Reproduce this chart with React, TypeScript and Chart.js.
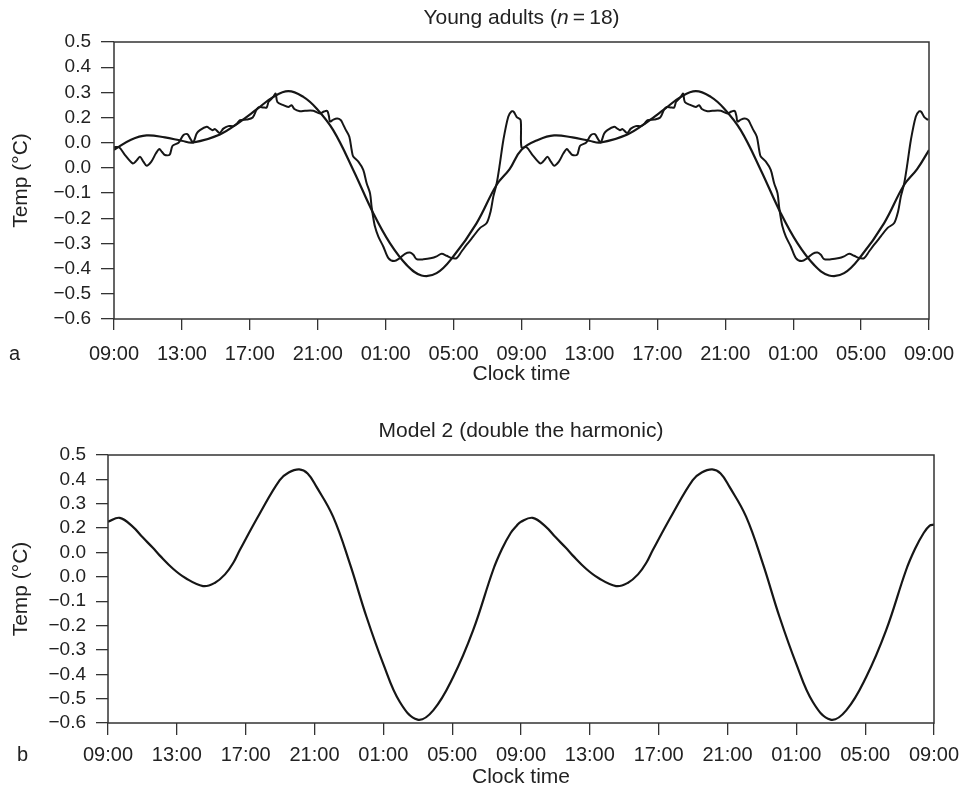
import React, { useEffect, useRef } from 'react';
import { Chart, registerables } from 'chart.js';

Chart.register(...registerables);

// ---------- data ----------
const X_TICK_HOURS = [0, 4, 8, 12, 16, 20, 24, 28, 32, 36, 40, 44, 48];
const X_TICK_LABELS = ['09:00', '13:00', '17:00', '21:00', '01:00', '05:00', '09:00', '13:00', '17:00', '21:00', '01:00', '05:00', '09:00'];
const Y_TICK_VALUES = [-0.6, -0.5, -0.4, -0.3, -0.2, -0.1, 0.0, 0.1, 0.2, 0.3, 0.4, 0.5];
const Y_TICK_LABELS = ['\u22120.6', '\u22120.5', '\u22120.4', '\u22120.3', '\u22120.2', '\u22120.1', '0.0', '0.0', '0.2', '0.3', '0.4', '0.5'];

// hours after 09:00 for one day (the chart is double-plotted)
const FIT_HOURS = [0, 1, 1.92, 3, 3.99, 4.67, 6.24, 7.42, 8.4, 9.38, 10.27, 11.15, 11.93, 12.91, 14.09, 15.27, 16.25, 17.23, 18.11, 19.0, 19.98, 21.35, 22.53, 23.3];
const FIT_TEMP = [0.072, 0.112, 0.129, 0.121, 0.108, 0.101, 0.133, 0.183, 0.232, 0.282, 0.305, 0.282, 0.236, 0.15, -0.008, -0.18, -0.299, -0.385, -0.427, -0.418, -0.352, -0.22, -0.068, -0.005];
const FIT_END_TEMP = 0.071;

const OBS_HOURS = [0, 0.3, 0.65, 1.1, 1.3, 1.53, 1.73, 1.92, 2.2, 2.47, 2.67, 2.82, 3.0, 3.28, 3.45, 3.8, 4.08, 4.32, 4.5, 4.67, 4.87, 5.06, 5.46, 5.65, 5.8, 5.95, 6.22, 6.44, 6.73, 7.03, 7.22, 7.42, 7.81, 8.17, 8.4, 8.56, 8.8, 8.99, 9.1, 9.2, 9.38, 9.52, 9.62, 9.97, 10.27, 10.46, 10.62, 10.95, 11.25, 11.74, 12.13, 12.37, 12.56, 12.66, 12.72, 12.92, 13.15, 13.35, 13.47, 13.66, 13.86, 14.0, 14.09, 14.39, 14.68, 14.88, 15.08, 15.17, 15.25, 15.37, 15.57, 15.86, 16.16, 16.5, 16.84, 17.14, 17.43, 17.63, 17.82, 18.22, 18.71, 19.0, 19.3, 19.59, 19.89, 20.18, 20.47, 20.77, 21.16, 21.55, 21.95, 22.18, 22.34, 22.54, 22.73, 22.93, 23.22, 23.42, 23.55, 23.71, 23.95];
const OBS_TEMP = [0.082, 0.082, 0.051, 0.018, 0.027, 0.044, 0.025, 0.009, 0.025, 0.058, 0.075, 0.064, 0.051, 0.053, 0.088, 0.1, 0.13, 0.134, 0.115, 0.101, 0.137, 0.15, 0.163, 0.156, 0.15, 0.154, 0.139, 0.156, 0.166, 0.166, 0.174, 0.19, 0.192, 0.2, 0.232, 0.242, 0.24, 0.24, 0.262, 0.269, 0.282, 0.295, 0.262, 0.249, 0.242, 0.249, 0.234, 0.225, 0.227, 0.227, 0.216, 0.224, 0.226, 0.205, 0.184, 0.192, 0.196, 0.19, 0.176, 0.15, 0.124, 0.07, 0.045, 0.025, -0.008, -0.061, -0.101, -0.154, -0.19, -0.233, -0.273, -0.312, -0.358, -0.37, -0.358, -0.341, -0.336, -0.345, -0.362, -0.363, -0.358, -0.351, -0.341, -0.349, -0.358, -0.358, -0.332, -0.305, -0.272, -0.239, -0.219, -0.173, -0.114, -0.061, 0.018, 0.11, 0.203, 0.225, 0.222, 0.203, 0.19];

const MODEL2_HOURS = [0, 0.68, 1.45, 2.0, 2.62, 3.0, 3.78, 4.5, 5.52, 6.2, 6.8, 7.3, 7.66, 8.82, 9.98, 10.5, 11.11, 11.6, 12.11, 13.08, 14.05, 15.02, 15.99, 16.96, 17.99, 18.9, 20.06, 21.22, 22.38, 22.9, 23.4, 23.75];
const MODEL2_TEMP = [0.226, 0.242, 0.205, 0.163, 0.118, 0.088, 0.033, -0.005, -0.038, -0.025, 0.01, 0.06, 0.11, 0.26, 0.397, 0.428, 0.441, 0.424, 0.37, 0.247, 0.055, -0.164, -0.356, -0.514, -0.586, -0.548, -0.411, -0.219, 0.028, 0.115, 0.18, 0.21];
const MODEL2_END_TEMP = 0.214;

// ---------- helpers ----------
const FONT = '"Liberation Sans", Arial, Helvetica, sans-serif';
const TEXT_COLOR = '#222';
const AXIS_COLOR = '#333';
const LINE_COLOR = '#161616';

// double plot: the same 24-h profile shown for two consecutive days
function doublePlot(hours: number[], temps: number[], endTemp?: number) {
  const pts: { x: number; y: number }[] = [];
  for (let d = 0; d < 2; d++) {
    hours.forEach((h, i) => pts.push({ x: h + 24 * d, y: temps[i] }));
  }
  if (endTemp !== undefined) pts.push({ x: 48, y: endTemp });
  return pts;
}

const framePlugin = {
  id: 'frame',
  afterDraw(chart: any, _args: any, opts: any) {
    const { ctx, chartArea } = chart;
    const { left, top, right, bottom } = chartArea;
    ctx.save();
    ctx.strokeStyle = AXIS_COLOR;
    ctx.lineWidth = 1.5;
    ctx.strokeRect(left, top, right - left, bottom - top);

    // title (supports an italic part)
    ctx.fillStyle = TEXT_COLOR;
    ctx.textBaseline = 'middle';
    ctx.textAlign = 'left';
    const parts: { text: string; italic?: boolean }[] = opts.titleParts || [];
    const fontFor = (p: any) => `${p.italic ? 'italic ' : ''}${opts.titleSize}px ${FONT}`;
    let total = 0;
    parts.forEach((p) => {
      ctx.font = fontFor(p);
      total += ctx.measureText(p.text).width;
    });
    let x = (left + right) / 2 - total / 2;
    parts.forEach((p) => {
      ctx.font = fontFor(p);
      ctx.fillText(p.text, x, opts.titleY);
      x += ctx.measureText(p.text).width;
    });

    // panel letter
    if (opts.letter) {
      ctx.font = `${opts.letterSize}px ${FONT}`;
      ctx.fillText(opts.letter, opts.letterX, bottom + opts.letterDy);
    }
    ctx.restore();
  },
};

function makeConfig(p: {
  datasets: any[];
  padRight: number;
  padTop: number;
  yWidth: number;
  xHeight: number;
  yTickLen: number;
  xTickLen: number;
  xTickPad: number;
  xTitlePadBottom: number;
  frame: any;
}) {
  return {
    type: 'line',
    data: { datasets: p.datasets },
    options: {
      responsive: false,
      animation: false,
      events: [],
      layout: { padding: { left: 0, right: p.padRight, top: p.padTop, bottom: 0 } },
      plugins: {
        legend: { display: false },
        title: { display: false },
        tooltip: { enabled: false },
        frame: p.frame,
      },
      elements: { point: { radius: 0 } },
      scales: {
        x: {
          type: 'linear',
          min: 0,
          max: 48,
          afterBuildTicks: (s: any) => {
            s.ticks = X_TICK_HOURS.map((v) => ({ value: v }));
          },
          afterFit: (s: any) => {
            s.height = p.xHeight;
            s.paddingLeft = 0;
            s.paddingRight = 0;
          },
          ticks: {
            callback: (_v: any, i: number) => X_TICK_LABELS[i],
            font: { size: 20, family: FONT },
            color: TEXT_COLOR,
            padding: p.xTickPad,
            maxRotation: 0,
            autoSkip: false,
          },
          grid: {
            display: true,
            drawOnChartArea: false,
            drawTicks: true,
            tickLength: p.xTickLen,
            color: AXIS_COLOR,
            lineWidth: 1.3,
          },
          border: { display: false },
          title: {
            display: true,
            text: 'Clock time',
            font: { size: 21, family: FONT },
            color: TEXT_COLOR,
            padding: { top: 0, bottom: p.xTitlePadBottom },
          },
        },
        y: {
          type: 'linear',
          min: -0.6,
          max: 0.5,
          afterBuildTicks: (s: any) => {
            s.ticks = Y_TICK_VALUES.map((v) => ({ value: v }));
          },
          afterFit: (s: any) => {
            s.width = p.yWidth;
            s.paddingTop = 0;
            s.paddingBottom = 0;
          },
          ticks: {
            callback: (_v: any, i: number) => Y_TICK_LABELS[i],
            font: { size: 19, family: FONT },
            color: TEXT_COLOR,
            padding: 10,
            autoSkip: false,
          },
          grid: {
            display: true,
            drawOnChartArea: false,
            drawTicks: true,
            tickLength: p.yTickLen,
            color: AXIS_COLOR,
            lineWidth: 1.3,
          },
          border: { display: false },
          title: {
            display: true,
            text: 'Temp (\u00B0C)',
            font: { size: 21, family: FONT },
            color: TEXT_COLOR,
            padding: { top: 9, bottom: 0 },
          },
        },
      },
    },
    plugins: [framePlugin],
  } as any;
}

export default function App() {
  const topRef = useRef<HTMLCanvasElement>(null);
  const botRef = useRef<HTMLCanvasElement>(null);

  useEffect(() => {
    const top = new Chart(
      topRef.current as HTMLCanvasElement,
      makeConfig({
        datasets: [
          {
            data: doublePlot(FIT_HOURS, FIT_TEMP, FIT_END_TEMP),
            borderColor: LINE_COLOR,
            borderWidth: 2.2,
            tension: 0.4,
            pointRadius: 0,
          },
          {
            data: doublePlot(OBS_HOURS, OBS_TEMP),
            borderColor: LINE_COLOR,
            borderWidth: 2,
            tension: 0.3,
            pointRadius: 0,
          },
        ],
        padRight: 32,
        padTop: 42,
        yWidth: 114,
        xHeight: 76,
        yTickLen: 13,
        xTickLen: 11,
        xTickPad: 12,
        xTitlePadBottom: 8,
        frame: {
          titleParts: [{ text: 'Young adults (' }, { text: 'n', italic: true }, { text: '\u2009=\u200918)' }],
          titleSize: 21,
          titleY: 18.5,
          letter: 'a',
          letterSize: 20,
          letterX: 9,
          letterDy: 35,
        },
      })
    );
    const bot = new Chart(
      botRef.current as HTMLCanvasElement,
      makeConfig({
        datasets: [
          {
            data: doublePlot(MODEL2_HOURS, MODEL2_TEMP, MODEL2_END_TEMP),
            borderColor: LINE_COLOR,
            borderWidth: 2.2,
            tension: 0.4,
            pointRadius: 0,
          },
        ],
        padRight: 27,
        padTop: 60,
        yWidth: 108,
        xHeight: 72,
        yTickLen: 12,
        xTickLen: 12,
        xTickPad: 8,
        xTitlePadBottom: 5,
        frame: {
          titleParts: [{ text: 'Model 2 (double the harmonic)' }],
          titleSize: 21,
          titleY: 36,
          letter: 'b',
          letterSize: 20,
          letterX: 17,
          letterDy: 32,
        },
      })
    );
    return () => {
      top.destroy();
      bot.destroy();
    };
  }, []);

  return (
    <div style={{ position: 'absolute', left: 0, top: 0, width: 961, height: 795, background: '#fff' }}>
      <canvas ref={topRef} width={961} height={395} style={{ position: 'absolute', left: 0, top: 0, display: 'block' }} />
      <canvas ref={botRef} width={961} height={400} style={{ position: 'absolute', left: 0, top: 395, display: 'block' }} />
    </div>
  );
}
